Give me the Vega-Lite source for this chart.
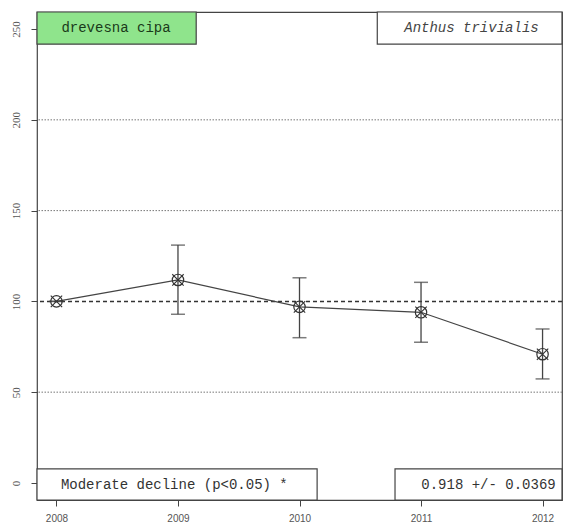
{
  "$schema": "https://vega.github.io/schema/vega-lite/v6.json",
  "width": 525,
  "height": 488,
  "autosize": {"type": "none"},
  "padding": {"left": 37, "top": 12, "right": 2, "bottom": 26},
  "background": "white",
  "config": {
    "view": {"stroke": "#444", "strokeWidth": 1.2},
    "axis": {"grid": false, "domain": false, "tickColor": "#444", "tickSize": 6, "labelColor": "#555", "labelFontSize": 10, "titleFontSize": 0},
    "axisX": {"labelFont": "Liberation Sans", "labelPadding": 7, "labelFlush": false},
    "axisY": {"labelFont": "Liberation Serif", "labelAngle": -90, "labelPadding": 10, "labelFontSize": 11}
  },
  "datasets": {
    "series": [
      {"year": 2008, "index": 100, "lower": 100, "upper": 100},
      {"year": 2009, "index": 111.8, "lower": 92.9, "upper": 131},
      {"year": 2010, "index": 97, "lower": 80, "upper": 113},
      {"year": 2011, "index": 94, "lower": 77.5, "upper": 110.5},
      {"year": 2012, "index": 70.9, "lower": 57.3, "upper": 84.8}
    ],
    "refs": [
      {"level": 50, "kind": "dotted"},
      {"level": 150, "kind": "dotted"},
      {"level": 200, "kind": "dotted"}
    ]
  },
  "layer": [
    {
      "data": {"name": "refs"},
      "mark": {"type": "rule", "color": "#777", "strokeWidth": 1, "strokeDash": [1.5, 1.5]},
      "encoding": {
        "y": {"field": "level", "type": "quantitative", "title": null,
              "scale": {"domain": [-9.4, 259.4], "nice": false, "zero": false},
              "axis": {"values": [0, 50, 100, 150, 200, 250]}}
      }
    },
    {
      "data": {"values": [{"level": 100}]},
      "mark": {"type": "rule", "color": "#333", "strokeWidth": 1.5, "strokeDash": [4, 3]},
      "encoding": {
        "y": {"field": "level", "type": "quantitative", "title": null}
      }
    },
    {
      "data": {"name": "series"},
      "mark": {"type": "rule", "color": "#444", "strokeWidth": 1.3},
      "encoding": {
        "x": {"field": "year", "type": "quantitative", "title": null,
              "scale": {"domain": [2007.84, 2012.16], "nice": false, "zero": false},
              "axis": {"values": [2008, 2009, 2010, 2011, 2012], "format": "d"}},
        "y": {"field": "lower", "type": "quantitative", "title": null},
        "y2": {"field": "upper"}
      }
    },
    {
      "data": {"name": "series"},
      "mark": {"type": "tick", "orient": "horizontal", "color": "#444", "size": 14, "thickness": 1.5},
      "encoding": {
        "x": {"field": "year", "type": "quantitative", "title": null},
        "y": {"field": "upper", "type": "quantitative", "title": null}
      }
    },
    {
      "data": {"name": "series"},
      "mark": {"type": "tick", "orient": "horizontal", "color": "#444", "size": 14, "thickness": 1.5},
      "encoding": {
        "x": {"field": "year", "type": "quantitative", "title": null},
        "y": {"field": "lower", "type": "quantitative", "title": null}
      }
    },
    {
      "data": {"name": "series"},
      "mark": {"type": "line", "color": "#444", "strokeWidth": 1.2},
      "encoding": {
        "x": {"field": "year", "type": "quantitative", "title": null},
        "y": {"field": "index", "type": "quantitative", "title": null}
      }
    },
    {
      "data": {"name": "series"},
      "mark": {"type": "point", "shape": "circle", "filled": false, "color": "#333", "size": 130, "strokeWidth": 1.2, "opacity": 1},
      "encoding": {
        "x": {"field": "year", "type": "quantitative", "title": null},
        "y": {"field": "index", "type": "quantitative", "title": null}
      }
    },
    {
      "data": {"name": "series"},
      "mark": {"type": "point", "shape": "M-1,-1L1,1M-1,1L1,-1", "filled": false, "color": "#333", "size": 130, "strokeWidth": 1.1, "opacity": 1},
      "encoding": {
        "x": {"field": "year", "type": "quantitative", "title": null},
        "y": {"field": "index", "type": "quantitative", "title": null}
      }
    },
    {
      "data": {"values": [{"label": "drevesna cipa"}]},
      "layer": [
        {
          "mark": {"type": "rect", "fill": "#8fe48c", "stroke": "#444", "strokeWidth": 1.2},
          "encoding": {
            "x": {"datum": 2007.84, "type": "quantitative"},
            "x2": {"datum": 2009.15},
            "y": {"datum": 241.7, "type": "quantitative"},
            "y2": {"datum": 259.4}
          }
        },
        {
          "mark": {"type": "text", "font": "Liberation Mono", "fontSize": 14, "color": "#1a3a1a", "align": "center", "baseline": "middle"},
          "encoding": {
            "x": {"datum": 2008.49, "type": "quantitative"},
            "y": {"datum": 250.6, "type": "quantitative"},
            "text": {"field": "label"}
          }
        }
      ]
    },
    {
      "data": {"values": [{"label": "Anthus trivialis"}]},
      "layer": [
        {
          "mark": {"type": "rect", "fill": "white", "stroke": "#444", "strokeWidth": 1.2},
          "encoding": {
            "x": {"datum": 2010.64, "type": "quantitative"},
            "x2": {"datum": 2012.16},
            "y": {"datum": 241.7, "type": "quantitative"},
            "y2": {"datum": 259.4}
          }
        },
        {
          "mark": {"type": "text", "font": "Liberation Mono", "fontSize": 14, "fontStyle": "italic", "color": "#444", "align": "center", "baseline": "middle"},
          "encoding": {
            "x": {"datum": 2011.415, "type": "quantitative"},
            "y": {"datum": 250.6, "type": "quantitative"},
            "text": {"field": "label"}
          }
        }
      ]
    },
    {
      "data": {"values": [{"label": "Moderate decline (p<0.05) *"}]},
      "layer": [
        {
          "mark": {"type": "rect", "fill": "white", "stroke": "#444", "strokeWidth": 1.2},
          "encoding": {
            "x": {"datum": 2007.84, "type": "quantitative"},
            "x2": {"datum": 2010.145},
            "y": {"datum": -9.4, "type": "quantitative"},
            "y2": {"datum": 7.7}
          }
        },
        {
          "mark": {"type": "text", "font": "Liberation Mono", "fontSize": 14, "color": "#333", "align": "center", "baseline": "middle"},
          "encoding": {
            "x": {"datum": 2008.97, "type": "quantitative"},
            "y": {"datum": -1.1, "type": "quantitative"},
            "text": {"field": "label"}
          }
        }
      ]
    },
    {
      "data": {"values": [{"label": "0.918 +/- 0.0369"}]},
      "layer": [
        {
          "mark": {"type": "rect", "fill": "white", "stroke": "#444", "strokeWidth": 1.2},
          "encoding": {
            "x": {"datum": 2010.786, "type": "quantitative"},
            "x2": {"datum": 2012.16},
            "y": {"datum": -9.4, "type": "quantitative"},
            "y2": {"datum": 7.7}
          }
        },
        {
          "mark": {"type": "text", "font": "Liberation Mono", "fontSize": 14, "color": "#333", "align": "center", "baseline": "middle"},
          "encoding": {
            "x": {"datum": 2011.555, "type": "quantitative"},
            "y": {"datum": -1.1, "type": "quantitative"},
            "text": {"field": "label"}
          }
        }
      ]
    }
  ]
}
